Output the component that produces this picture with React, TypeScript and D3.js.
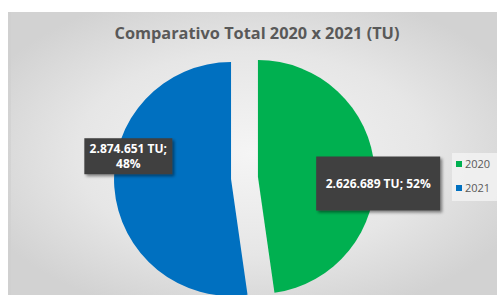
import React from "react";
import * as d3 from "d3";

const categories = ["2020", "2021"];
const values = [2626689, 2874651];
const labelTexts = [["2.626.689 TU; 52%"], ["2.874.651 TU;", "48%"]];
const colors = ["#00b050", "#0070c0"];
const title = "Comparativo Total 2020 x 2021 (TU)";

const W = 497;
const H = 295;

export default function App() {
  const cx = 244.5;
  const cy = 178;
  const r = 117;
  const explode = 13.5;
  const pie = d3.pie<number>().sort(null).startAngle(0).endAngle(2 * Math.PI);
  const arcs = pie(values);
  const arcGen = d3.arc<d3.PieArcDatum<number>>().innerRadius(0).outerRadius(r);
  const labelArc = d3.arc<d3.PieArcDatum<number>>().innerRadius(0).outerRadius(r);
  const boxes = [
    { w: 124, h: 54, dr: 1.03, dy: 15 },
    { w: 88, h: 36, dr: 0.88, dy: -30 },
  ];
  const font = "'Open Sans', 'Liberation Sans', sans-serif";
  return (
    <svg
      width={W}
      height={H}
      style={{ position: "fixed", left: 0, top: 0, background: "#fff" }}
      fontFamily={font}
    >
      <defs>
        <radialGradient id="bg" cx="50%" cy="50%" r="60%">
          <stop offset="0%" stopColor="#f5f5f5" />
          <stop offset="60%" stopColor="#e6e6e6" />
          <stop offset="100%" stopColor="#d2d2d2" />
        </radialGradient>
        <filter id="sh" x="-20%" y="-20%" width="150%" height="150%">
          <feDropShadow dx="2" dy="2" stdDeviation="1.5" floodColor="#000" floodOpacity="0.45" />
        </filter>
      </defs>
      <rect x={8} y={12} width={W - 8} height={H - 12} fill="url(#bg)" />
      <rect x={8} y={12} width={3} height={H - 12} fill="#cfcfcf" opacity={0.6} />
      <text
        x={257}
        y={39}
        textAnchor="middle"
        fontSize={15.5}
        fontWeight={700}
        fill="#595959"
        textLength={285}
        lengthAdjust="spacingAndGlyphs"
      >
        {title}
      </text>
      {arcs.map((a, i) => {
        const mid = (a.startAngle + a.endAngle) / 2;
        const ox = Math.sin(mid) * explode;
        const oy = -Math.cos(mid) * explode;
        return (
          <g key={categories[i]} transform={`translate(${cx + ox},${cy + oy})`}>
            <path d={arcGen(a) || ""} fill={colors[i]} />
          </g>
        );
      })}
      {arcs.map((a, i) => {
        const mid = (a.startAngle + a.endAngle) / 2;
        const ox = Math.sin(mid) * explode;
        const oy = -Math.cos(mid) * explode;
        const [lx, ly] = labelArc.centroid(a);
        const b = boxes[i];
        const bx = cx + ox + lx * 2 * b.dr;
        const by = cy + oy + ly * 2 * b.dr + b.dy;
        const lines = labelTexts[i];
        return (
          <g key={"l" + i}>
            <rect
              x={bx - b.w / 2}
              y={by - b.h / 2}
              width={b.w}
              height={b.h}
              fill="#404040"
              filter="url(#sh)"
            />
            {lines.map((t, j) => (
              <text
                key={j}
                x={bx}
                y={by + (j - (lines.length - 1) / 2) * 15 + 4.3}
                textAnchor="middle"
                fontSize={12}
                fontWeight={700}
                fill="#ffffff"
              >
                {t}
              </text>
            ))}
          </g>
        );
      })}
      <rect x={452} y={153} width={45} height={48} fill="#f2f2f2" opacity={0.85} />
      {categories.map((c, i) => (
        <g key={"lg" + c} transform={`translate(456,${164 + i * 24})`}>
          <rect x={0} y={-3} width={6} height={6} fill={colors[i]} />
          <text x={9} y={4} fontSize={11} fill="#595959">
            {c}
          </text>
        </g>
      ))}
    </svg>
  );
}
